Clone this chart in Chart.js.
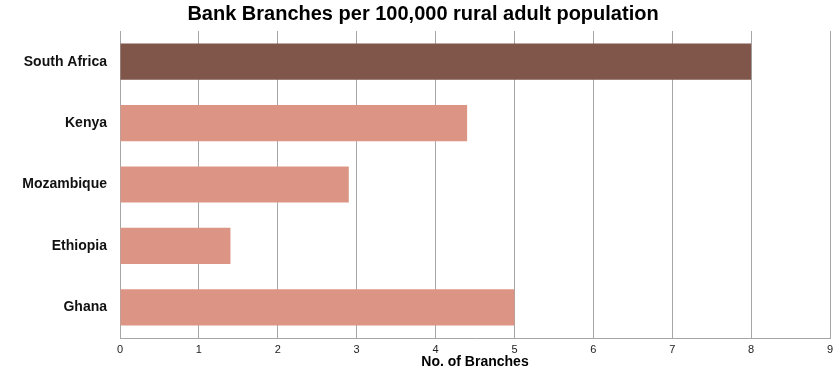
<!DOCTYPE html>
<html lang="en">
<head>
  <meta charset="UTF-8">
  <title>Bank Branches per 100,000 rural adult population</title>
  <script src="https://cdn.jsdelivr.net/npm/chart.js"></script>
  <style>
    html, body { margin: 0; padding: 0; background: #fff; }
    #wrap { width: 840px; height: 369px; }
  </style>
</head>
<body>
  <div id="wrap"><canvas id="chart"></canvas></div>
  <script>
    const countries = ['South Africa', 'Kenya', 'Mozambique', 'Ethiopia', 'Ghana'];
    const branches = [8.0, 4.4, 2.9, 1.4, 5.0];
    const barColors = ['#7f5649', '#dc9585', '#dc9585', '#dc9585', '#dc9585'];

    const font = '"Liberation Sans", Arial, Helvetica, sans-serif';
    const gridColor = '#a6a6a6';

    new Chart(document.getElementById('chart'), {
      type: 'bar',
      data: {
        labels: countries,
        datasets: [{
          data: branches,
          backgroundColor: barColors,
          categoryPercentage: 1,
          barPercentage: 0.59
        }]
      },
      options: {
        indexAxis: 'y',
        responsive: true,
        maintainAspectRatio: false,
        animation: false,
        // small left padding nudges the title centre right, like the original
        layout: { padding: { left: 16, right: 10, top: 0, bottom: 0 } },
        plugins: {
          legend: { display: false },
          tooltip: { enabled: false },
          title: {
            display: true,
            text: 'Bank Branches per 100,000 rural adult population',
            color: '#000',
            font: { family: font, size: 20, weight: 'bold', lineHeight: 1.1 },
            padding: { top: 3, bottom: 6 }
          }
        },
        scales: {
          x: {
            min: 0, max: 9,
            ticks: { stepSize: 1, color: '#222', padding: 5, font: { family: font, size: 11 } },
            grid: { color: gridColor, lineWidth: 1, drawTicks: false },
            border: { display: true, color: gridColor, width: 1 },
            title: {
              display: true, text: 'No. of Branches', color: '#000',
              font: { family: font, size: 14, weight: 'bold', lineHeight: 1 }, padding: { top: 0, bottom: 0 }
            },
            afterFit: s => { s.height = 31; }
          },
          y: {
            grid: { display: false, drawTicks: false },
            border: { display: true, color: gridColor, width: 1 },
            ticks: { color: '#111', padding: 13, font: { family: font, size: 14, weight: 'bold' } },
            afterFit: s => { s.width = 104; }
          }
        }
      }
    });
  </script>
</body>
</html>
